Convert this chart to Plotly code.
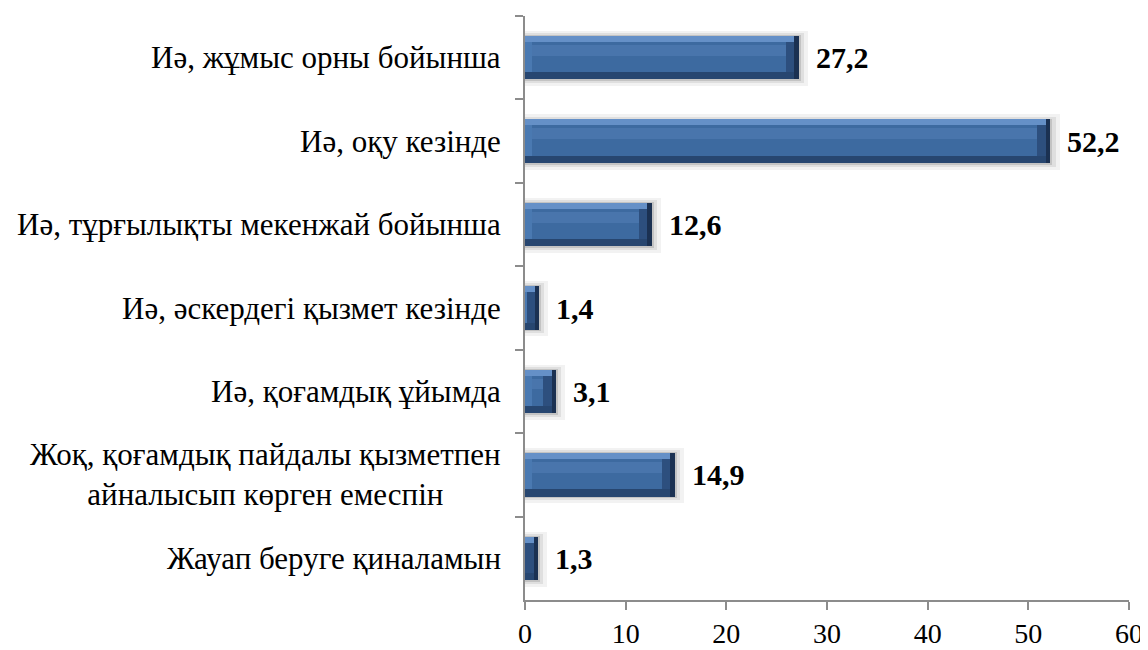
import plotly.graph_objects as go

categories = [
    "Иә, жұмыс орны бойынша",
    "Иә, оқу кезінде",
    "Иә, тұрғылықты мекенжай бойынша",
    "Иә, әскердегі қызмет кезінде",
    "Иә, қоғамдық ұйымда",
    "Жоқ, қоғамдық пайдалы қызметпен<br>айналысып көрген емеспін",
    "Жауап беруге қиналамын",
]
values = [27.2, 52.2, 12.6, 1.4, 3.1, 14.9, 1.3]
x_ticks = [0, 10, 20, 30, 40, 50, 60]

labels = [f"{v:.1f}".replace(".", ",") for v in values]
FONT = "Liberation Serif"

# bevel geometry (style only)
W = 0.52          # bar thickness (category units)
OFF = -W / 2
END = 1.3         # right-end bevel length (x units)
LEFT = 0.7        # left bevel length
TOPB = 0.072      # top bevel thickness
BOTB = 0.085      # bottom bevel thickness
MID_W = W - TOPB - BOTB
MID_OFF = OFF + TOPB


def layer(xs, color, width=W, offset=OFF, base=None, hover=False):
    return go.Bar(y=categories, x=xs, base=base, orientation="h", width=width, offset=offset,
                  marker=dict(color=color, line=dict(width=0)),
                  hoverinfo=None if hover else "skip",
                  hovertemplate="%{y}: %{customdata}<extra></extra>" if hover else None,
                  customdata=values if hover else None)


fig = go.Figure()
# soft shadow halo
fig.add_trace(layer([v + 0.9 for v in values], "rgba(0,0,0,0.05)", width=W + 0.14, offset=OFF - 0.06))
fig.add_trace(layer([v + 0.5 for v in values], "rgba(0,0,0,0.08)", width=W + 0.08, offset=OFF - 0.035))
fig.add_trace(layer([v + 0.2 for v in values], "rgba(0,0,0,0.12)", width=W + 0.03, offset=OFF - 0.01))
# right-end bevel (darkest)
fig.add_trace(layer(values, "#1b3152", hover=True))
# bottom bevel
fig.add_trace(layer([max(v - 0.45, 0) for v in values], "#274670"))
# top bevel (light)
fig.add_trace(layer([max(v - 0.45, 0) for v in values], "#6590c7", width=TOPB))
# right-end inner shade
fig.add_trace(layer([max(v - 0.45, 0) for v in values], "#2d4f7e", width=MID_W, offset=MID_OFF))
# left bevel
fig.add_trace(layer([min(max(v - END, 0), LEFT) for v in values], "#4a79b1",
                    width=MID_W, offset=MID_OFF))
# flat face
fig.add_trace(layer([max(v - END - LEFT, 0) for v in values], "#3d6aa0",
                    width=MID_W, offset=MID_OFF, base=LEFT))
# soft highlight band in the upper face
fig.add_trace(layer([max(v - END - LEFT, 0) for v in values], "rgba(120,160,215,0.22)",
                    width=MID_W * 0.35, offset=MID_OFF + MID_W * 0.1, base=LEFT))

for c, v, t in zip(categories, values, labels):
    fig.add_annotation(x=v, y=c, xref="x", yref="y", text=f"<b>{t}</b>", showarrow=False,
                       xanchor="left", yanchor="middle", xshift=15,
                       font=dict(family=FONT, size=30, color="black"))
    fig.add_annotation(x=0, y=c, xref="paper", yref="y", text=c, showarrow=False,
                       xanchor="right", yanchor="middle", xshift=-22, align="center",
                       font=dict(family=FONT, size=31, color="black"))

# page body adds an 8px margin, so the figure is 8px smaller than the window
fig.update_layout(
    width=1140, height=642,
    margin=dict(l=517, r=19, t=7.5, b=50, autoexpand=False),
    paper_bgcolor="white", plot_bgcolor="white",
    barmode="overlay", showlegend=False, bargap=0,
    font=dict(family=FONT, size=31, color="black"),
)
fig.update_xaxes(range=[0, 60], tickvals=x_ticks, ticktext=[str(t) for t in x_ticks],
                 showgrid=False, zeroline=False, showline=True, linecolor="#8c8c8c", linewidth=1.5,
                 ticks="outside", ticklen=8, tickcolor="#8c8c8c", tickwidth=1.5, automargin=False,
                 tickfont=dict(family=FONT, size=28), fixedrange=True)
fig.update_yaxes(type="category", categoryorder="array", categoryarray=categories,
                 range=[6.5, -0.5], showticklabels=False, tickson="boundaries", automargin=False,
                 showgrid=False, zeroline=False, showline=True, linecolor="#8c8c8c", linewidth=1.5,
                 ticks="outside", ticklen=8, tickcolor="#8c8c8c", tickwidth=1.5, fixedrange=True)

fig.write_html("out.html")
